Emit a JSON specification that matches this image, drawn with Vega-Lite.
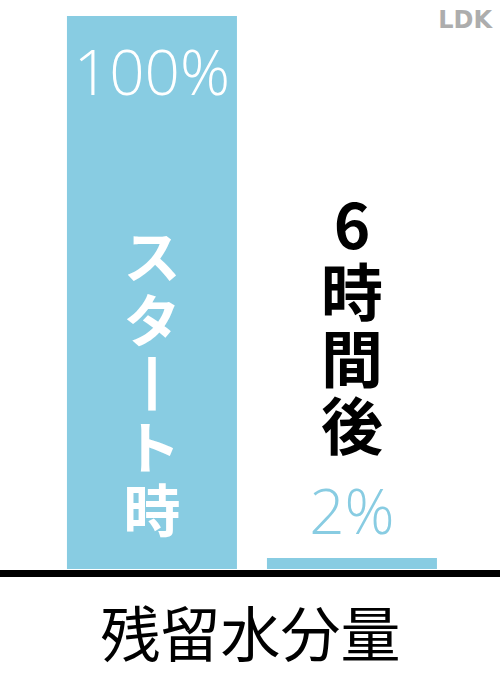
{
  "$schema": "https://vega.github.io/schema/vega-lite/v6.json",
  "width": 500,
  "height": 573,
  "autosize": {"type": "none"},
  "padding": {"left": 0, "top": 0, "right": 0, "bottom": 113},
  "background": "white",
  "config": {"view": {"stroke": null}},
  "title": {
    "text": "LDK",
    "anchor": "end",
    "orient": "top",
    "frame": "group",
    "offset": -33,
    "dx": -8,
    "fontSize": 24,
    "font": "DejaVu Sans",
    "fontWeight": "bold",
    "color": "#adadad"
  },
  "data": {
    "values": [
      {"time": "スタート時", "value": 1.0, "lines": ["ス", "タ", "丨", "ト", "時"]},
      {"time": "6時間後", "value": 0.02, "lines": ["6", "時", "間", "後"]}
    ]
  },
  "encoding": {
    "x": {
      "field": "time",
      "type": "nominal",
      "sort": null,
      "scale": {"paddingInner": 0.15, "paddingOuter": 0.325, "align": 0.515},
      "axis": {
        "labels": false,
        "ticks": false,
        "grid": false,
        "domainColor": "black",
        "domainWidth": 7,
        "domainCap": "round",
        "title": "残留水分量",
        "titleFont": "Noto Sans CJK JP",
        "titleFontSize": 60,
        "titleFontWeight": "normal",
        "titleColor": "black",
        "titlePadding": 36
      }
    }
  },
  "layer": [
    {
      "mark": {"type": "bar", "color": "#88CCE2"},
      "encoding": {
        "y": {"field": "value", "type": "quantitative", "stack": null, "scale": {"domain": [-0.0072, 1.0289], "nice": false, "zero": false}, "axis": null},
        "y2": {"datum": 0}
      }
    },
    {
      "transform": [{"filter": "datum.time === 'スタート時'"}],
      "mark": {"type": "text", "align": "center", "baseline": "alphabetic", "dy": 79, "font": "Open Sans", "fontWeight": 300, "fontSize": 62, "color": "white"},
      "encoding": {
        "y": {"field": "value", "type": "quantitative"},
        "text": {"field": "value", "type": "quantitative", "format": ".0%"}
      }
    },
    {
      "transform": [{"filter": "datum.time === '6時間後'"}],
      "mark": {"type": "text", "align": "center", "baseline": "alphabetic", "dy": -24, "font": "Open Sans", "fontWeight": 300, "fontSize": 62, "color": "#88CCE2"},
      "encoding": {
        "y": {"field": "value", "type": "quantitative"},
        "text": {"field": "value", "type": "quantitative", "format": ".0%"}
      }
    },
    {
      "transform": [{"filter": "datum.time === 'スタート時'"}],
      "mark": {"type": "text", "align": "center", "baseline": "alphabetic", "font": "Noto Sans CJK JP", "fontWeight": "bold", "fontSize": 57, "lineHeight": 63.5, "color": "white"},
      "encoding": {
        "y": {"datum": 0.5262, "type": "quantitative"},
        "text": {"field": "lines", "type": "nominal"}
      }
    },
    {
      "transform": [{"filter": "datum.time === '6時間後'"}],
      "mark": {"type": "text", "align": "center", "baseline": "alphabetic", "font": "Noto Sans CJK JP", "fontWeight": "bold", "fontSize": 62, "lineHeight": 67, "color": "black"},
      "encoding": {
        "y": {"datum": 0.5787, "type": "quantitative"},
        "text": {"field": "lines", "type": "nominal"}
      }
    }
  ]
}
